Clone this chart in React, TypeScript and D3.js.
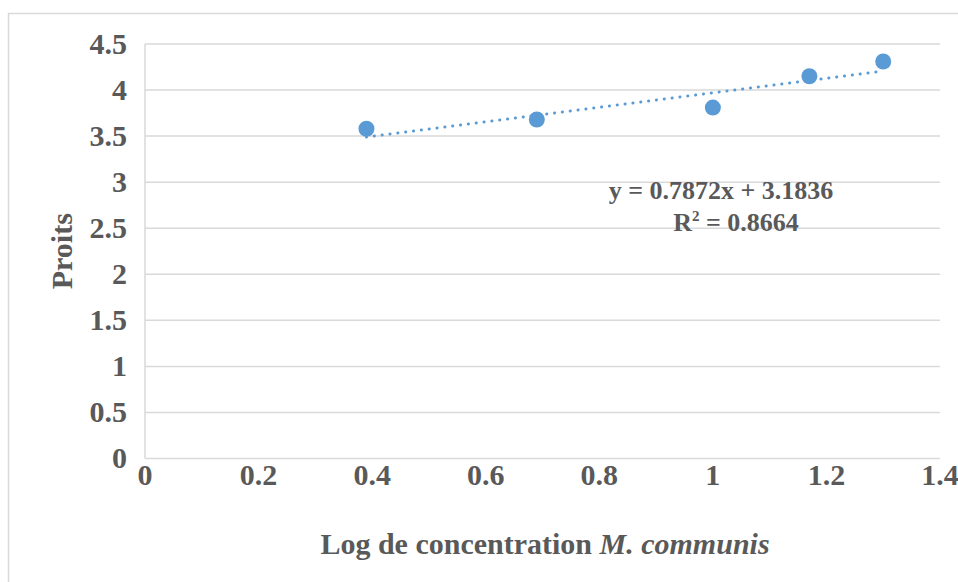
import React, { useEffect, useRef } from "react";
import * as d3 from "d3";

// values
const logConc = [0.39, 0.69, 1.0, 1.17, 1.3];
const probits = [3.58, 3.68, 3.81, 4.15, 4.31];
const xTicks = [0, 0.2, 0.4, 0.6, 0.8, 1, 1.2, 1.4];
const yTicks = [0, 0.5, 1, 1.5, 2, 2.5, 3, 3.5, 4, 4.5];
const slope = 0.7872;
const intercept = 3.1836;
const eqLabel = "y = 0.7872x + 3.1836";
const r2Value = "0.8664";

const App = () => {
    const svgRef = useRef<SVGSVGElement>(null);

    useEffect(() => {
        const svg = d3.select(svgRef.current);
        svg.selectAll("*").remove();

        const width = 958;
        const height = 582;
        const textColor = "#595959";
        const gridColor = "#d9d9d9";
        const blue = "#5B9BD5";
        const font = "'Liberation Serif', 'Times New Roman', serif";
        const tickSize = 30;

        const x = d3.scaleLinear().domain([0, 1.4]).range([145, 940]);
        const y = d3.scaleLinear().domain([0, 4.5]).range([458.5, 44]);

        // outer frame
        svg.append("rect")
            .attr("x", 8.5)
            .attr("y", 13.5)
            .attr("width", width)
            .attr("height", height)
            .attr("fill", "white")
            .attr("stroke", gridColor)
            .attr("stroke-width", 1.5);

        // horizontal gridlines
        svg.append("g")
            .selectAll("line")
            .data(yTicks)
            .enter()
            .append("line")
            .attr("x1", x(0))
            .attr("x2", x(1.4))
            .attr("y1", (d) => y(d))
            .attr("y2", (d) => y(d))
            .attr("stroke", gridColor)
            .attr("stroke-width", 1.5);

        // y axis line
        svg.append("line")
            .attr("x1", x(0))
            .attr("x2", x(0))
            .attr("y1", y(0))
            .attr("y2", y(4.5))
            .attr("stroke", gridColor)
            .attr("stroke-width", 1.5);

        // y tick labels
        svg.append("g")
            .selectAll("text")
            .data(yTicks)
            .enter()
            .append("text")
            .attr("x", 127)
            .attr("y", (d) => y(d))
            .attr("dy", "0.33em")
            .attr("text-anchor", "end")
            .attr("font-family", font)
            .attr("font-weight", "bold")
            .attr("font-size", tickSize)
            .attr("fill", textColor)
            .text((d) => String(d));

        // x tick labels
        svg.append("g")
            .selectAll("text")
            .data(xTicks)
            .enter()
            .append("text")
            .attr("x", (d) => x(d))
            .attr("y", 485)
            .attr("text-anchor", "middle")
            .attr("font-family", font)
            .attr("font-weight", "bold")
            .attr("font-size", tickSize)
            .attr("fill", textColor)
            .text((d) => String(d));

        // axis titles
        const xTitle = svg.append("text")
            .attr("x", 545)
            .attr("y", 554)
            .attr("text-anchor", "middle")
            .attr("font-family", font)
            .attr("font-weight", "bold")
            .attr("font-size", tickSize)
            .attr("fill", textColor);
        xTitle.append("tspan").text("Log de concentration ");
        xTitle.append("tspan").attr("font-style", "italic").text("M. communis");

        svg.append("text")
            .attr("transform", `translate(72,${y(2.25)}) rotate(-90)`)
            .attr("text-anchor", "middle")
            .attr("font-family", font)
            .attr("font-weight", "bold")
            .attr("font-size", tickSize)
            .attr("fill", textColor)
            .text("Proits");

        // trendline (linear fit)
        const [x0, x1] = d3.extent(logConc) as [number, number];
        svg.append("line")
            .attr("x1", x(x0))
            .attr("y1", y(slope * x0 + intercept))
            .attr("x2", x(x1))
            .attr("y2", y(slope * x1 + intercept))
            .attr("stroke", blue)
            .attr("stroke-width", 3)
            .attr("stroke-linecap", "round")
            .attr("stroke-dasharray", "0.1 7.8");

        // points
        svg.append("g")
            .selectAll("circle")
            .data(logConc.map((v, i) => ({ x: v, y: probits[i] })))
            .enter()
            .append("circle")
            .attr("cx", (d) => x(d.x))
            .attr("cy", (d) => y(d.y))
            .attr("r", 8)
            .attr("fill", blue);

        // equation
        svg.append("text")
            .attr("x", 721)
            .attr("y", 199)
            .attr("text-anchor", "middle")
            .attr("font-family", font)
            .attr("font-weight", "bold")
            .attr("font-size", 26)
            .attr("fill", textColor)
            .text(eqLabel);

        const r2 = svg.append("text")
            .attr("x", 736)
            .attr("y", 231)
            .attr("text-anchor", "middle")
            .attr("font-family", font)
            .attr("font-weight", "bold")
            .attr("font-size", 26)
            .attr("fill", textColor);
        r2.append("tspan").text("R");
        r2.append("tspan").attr("font-size", 15).attr("dy", -10).text("2");
        r2.append("tspan").attr("dy", 10).text(" = " + r2Value);
    }, []);

    return (
        <svg
            ref={svgRef}
            width="958"
            height="582"
            style={{ position: "absolute", left: 0, top: 0, backgroundColor: "white" }}
        ></svg>
    );
};

export default App;
